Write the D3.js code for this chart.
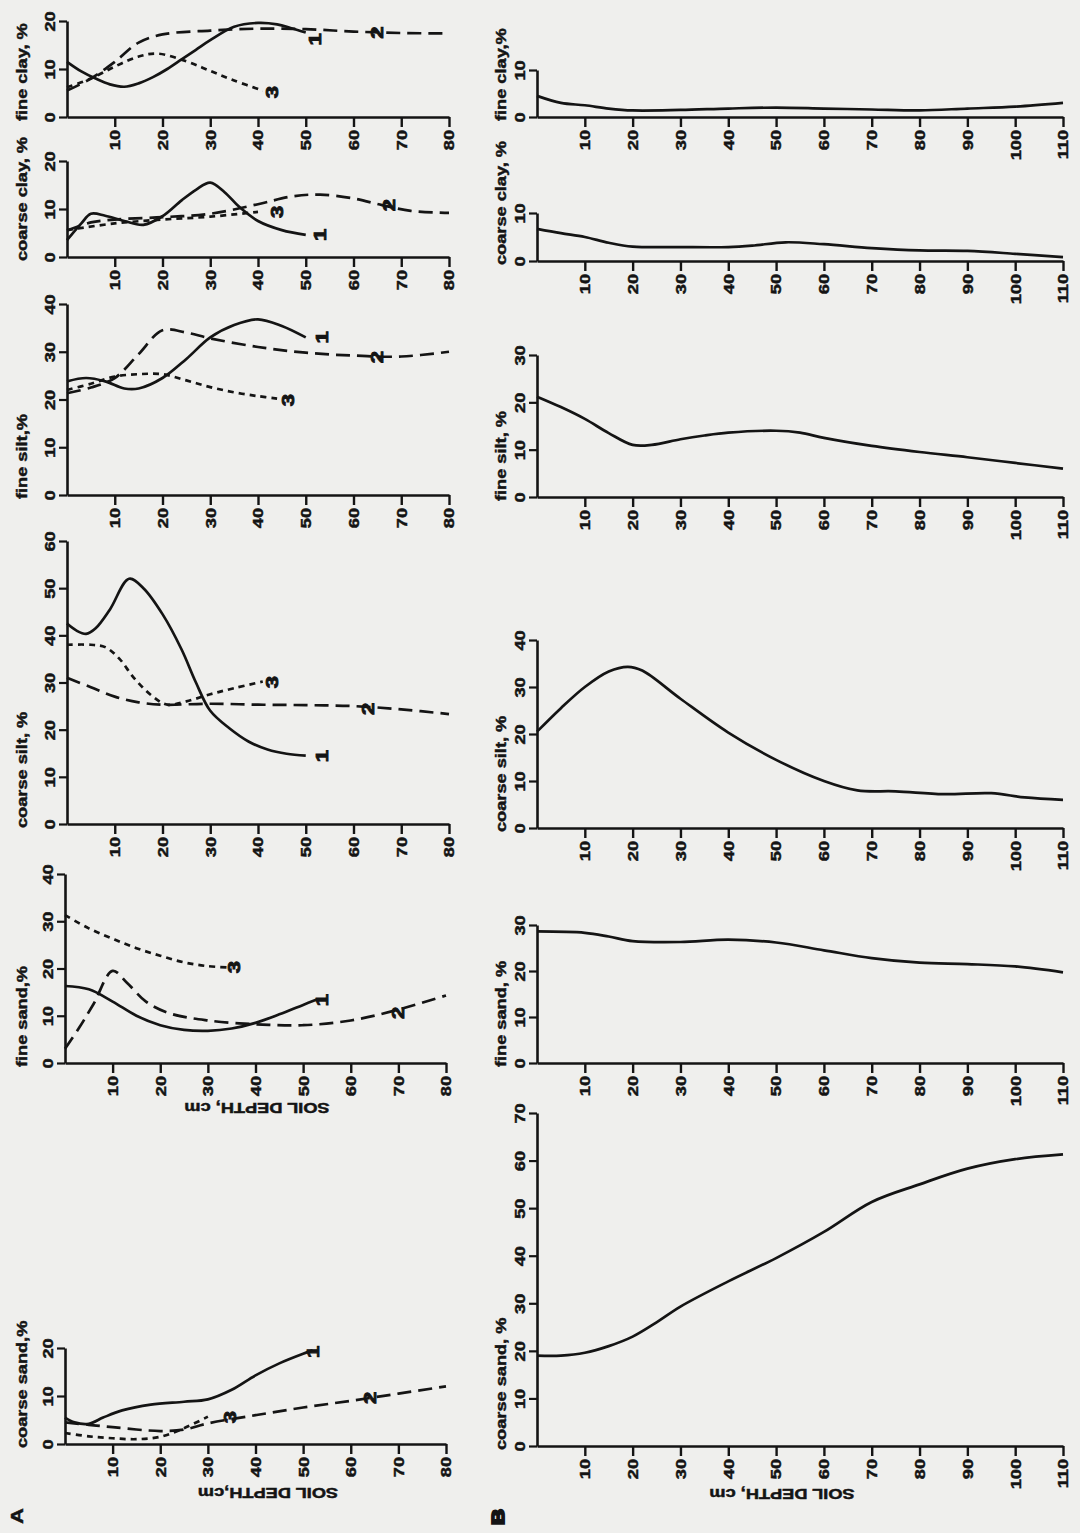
<!DOCTYPE html>
<html>
<head>
<meta charset="utf-8" />
<title>Particle size fractions by soil depth</title>
<script src="https://d3js.org/d3.v7.min.js"></script>
<style>
  body { margin: 0; background: #efefed; }
  svg { display: block; }
  text { font-family: "Liberation Sans", Arial, sans-serif; font-weight: bold; fill: #141414; stroke: #141414; stroke-width: 0.45px; }
</style>
</head>
<body>
<div id="chart"></div>
<script>
// ---- tick labels ----
const depthTicksA = [10, 20, 30, 40, 50, 60, 70, 80];
const depthTicksB = [10, 20, 30, 40, 50, 60, 70, 80, 90, 100, 110];

// ---- column A : three profiles (1 solid, 2 long dash, 3 short dash), [depth cm, %] ----
const aFineClay1 = [[0,11.5],[3,9.5],[6,8],[9,6.8],[12,6.3],[15,7],[18,8.3],[21,10],[24,12],[27,14],[30,16],[35,18.8],[40,19.6],[44,19.3],[47,18.5],[50,17.6]];
const aFineClay2 = [[0,5.5],[5,8],[10,11.5],[15,15.5],[20,17.2],[30,18],[40,18.4],[50,18.3],[60,17.8],[70,17.5],[80,17.4]];
const aFineClay3 = [[0,6.2],[5,8],[10,10.5],[15,12.6],[19,13.2],[25,11.6],[30,9.6],[35,7.6],[41,5.5]];

const aCoarseClay1 = [[0,3.5],[3,7],[5,9],[8,8.6],[12,7.5],[16,6.7],[20,8.5],[24,11.8],[27,14],[30,15.5],[33,13.5],[36,10.5],[40,7.5],[45,5.6],[50,4.6]];
const aCoarseClay2 = [[0,5.5],[5,7.2],[10,7.8],[20,8.3],[30,9],[40,11],[47,12.6],[53,13],[60,12.2],[66,10.8],[72,9.6],[80,9.2]];
const aCoarseClay3 = [[0,5.6],[10,7],[20,7.8],[30,8.4],[40,9.4]];

const aFineSilt1 = [[0,23.8],[4,24.5],[8,23.8],[12,22.3],[15,22.3],[20,24.5],[25,28.5],[30,33],[35,35.6],[40,36.8],[45,35.4],[50,33]];
const aFineSilt2 = [[0,21.3],[5,22.5],[10,24.5],[15,29.5],[20,34.5],[25,34],[30,32.8],[40,31],[50,29.8],[60,29.2],[70,29],[80,30]];
const aFineSilt3 = [[0,22],[5,23.3],[10,24.8],[15,25.3],[20,25.3],[25,24],[30,22.6],[35,21.5],[40,20.7],[44,20.2]];

const aCoarseSilt1 = [[0,42.5],[2,41],[4,40.3],[6,41.5],[9,45.5],[13,52],[16,50],[20,44.5],[24,37],[27,30],[30,24],[34,20.3],[38,17.5],[42,15.8],[46,14.9],[50,14.5]];
const aCoarseSilt2 = [[0,31],[5,29],[10,27],[15,25.8],[20,25.3],[30,25.5],[40,25.3],[50,25.2],[60,25],[70,24.3],[80,23.3]];
const aCoarseSilt3 = [[0,38],[5,38],[8,37.5],[11,35],[14,31],[18,27],[21,25.3],[25,26],[30,27.5],[35,28.8],[41,30.2]];

const aFineSand1 = [[0,16.3],[5,15.6],[10,13],[15,10],[20,8],[25,7],[30,6.8],[35,7.3],[40,8.5],[45,10.3],[50,12.3],[53,13.5]];
const aFineSand2 = [[0,3],[3,7.5],[6,12.5],[10,19.5],[13,17],[17,13],[22,10.5],[30,9],[40,8.2],[50,8],[60,9],[70,11.3],[80,14.3]];
const aFineSand3 = [[0,31.3],[5,28.5],[10,26.3],[15,24.3],[20,22.7],[25,21.3],[30,20.5],[35,20.2]];

const aCoarseSand1 = [[0,5.5],[2,4.5],[5,4.2],[8,5.5],[12,7],[18,8.2],[25,8.8],[30,9.3],[35,11.3],[40,14.3],[45,16.8],[50,18.8],[52,19.5]];
const aCoarseSand2 = [[0,4.5],[5,4],[10,3.5],[20,2.7],[25,3],[30,4.3],[40,6],[50,7.6],[60,9],[70,10.5],[80,12]];
const aCoarseSand3 = [[0,2.3],[5,1.6],[10,1.2],[15,1],[20,1.5],[25,3.3],[30,5.7]];

// label anchors for curve numbers, [depth, %]
const aLabels = [
  [[52, 16.2], [65, 17.6], [43, 5.2]],
  [[53, 4.6], [67.5, 10.8], [44, 9.4]],
  [[53.5, 33], [65, 28.9], [46.3, 19.9]],
  [[53.5, 14.4], [63, 24.4], [43, 30.1]],
  [[54, 13.3], [70, 10.6], [35.5, 20.3]],
  [[52, 19.2], [64, 9.6], [34.6, 5.6]]
];

// ---- column B : single profile, [depth cm, %] ----
const bFineClay = [[0,4.5],[5,3],[10,2.5],[15,1.8],[20,1.4],[30,1.5],[40,1.8],[50,2],[60,1.8],[70,1.6],[80,1.4],[90,1.8],[100,2.2],[110,3]];
const bCoarseClay = [[0,6.7],[5,5.8],[10,5],[15,3.8],[20,3],[30,2.9],[40,2.9],[45,3.2],[52,3.9],[60,3.5],[70,2.7],[80,2.2],[90,2.1],[100,1.5],[110,0.8]];
const bFineSilt = [[0,21.2],[5,19],[10,16.5],[15,13.5],[20,11],[24,11],[30,12.2],[35,13],[40,13.6],[50,14],[55,13.6],[60,12.5],[70,10.8],[80,9.5],[90,8.4],[100,7.2],[110,6]];
const bCoarseSilt = [[0,20.5],[5,25.5],[10,30],[15,33.3],[19,34.3],[22,33.5],[30,27.5],[40,20.3],[50,14.5],[60,10],[67,8],[75,7.8],[85,7.2],[95,7.4],[102,6.5],[110,6]];
const bFineSand = [[0,28.6],[10,28.3],[15,27.5],[20,26.5],[30,26.3],[40,26.8],[50,26.2],[60,24.5],[70,22.8],[80,21.8],[90,21.5],[100,21],[110,19.7]];
const bCoarseSand = [[0,19],[5,19],[10,19.6],[15,21],[20,23],[25,26],[30,29.3],[40,34.6],[50,39.5],[60,45],[70,51.3],[80,55],[90,58.3],[100,60.3],[110,61.3]];

const width = 1080, height = 1533;
const svg = d3.select("#chart").append("svg")
  .attr("width", width)
  .attr("height", height);

const STRETCH = "scale(1.3,1)";
const dashes = [null, "14,7", "6,5"];

const panelsA = [
  { title: "fine clay, %", yMax: 20, yTicks: [0,10,20], bottom: 117, top: 21, left: 67, right: 449, series: [aFineClay1, aFineClay2, aFineClay3], labels: aLabels[0] },
  { title: "coarse clay, %", yMax: 20, yTicks: [0,10,20], bottom: 257, top: 161, left: 67, right: 449, series: [aCoarseClay1, aCoarseClay2, aCoarseClay3], labels: aLabels[1] },
  { title: "fine silt,%", yMax: 40, yTicks: [0,10,20,30,40], bottom: 495, top: 304, left: 67, right: 449, series: [aFineSilt1, aFineSilt2, aFineSilt3], labels: aLabels[2] },
  { title: "coarse silt, %", yMax: 60, yTicks: [0,10,20,30,40,50,60], bottom: 824, top: 541, left: 67, right: 449, series: [aCoarseSilt1, aCoarseSilt2, aCoarseSilt3], labels: aLabels[3] },
  { title: "fine sand,%", yMax: 40, yTicks: [0,10,20,30,40], bottom: 1063, top: 874, left: 65, right: 446, series: [aFineSand1, aFineSand2, aFineSand3], labels: aLabels[4], depthLabel: ["SOIL DEPTH, cm", 257, 1103] },
  { title: "coarse sand,%", yMax: 20, yTicks: [0,10,20], bottom: 1444, top: 1348, left: 65, right: 446, series: [aCoarseSand1, aCoarseSand2, aCoarseSand3], labels: aLabels[5], depthLabel: ["SOIL DEPTH,cm", 268, 1488] }
];

const panelsB = [
  { title: "fine clay,%", yMax: 10, yTicks: [0,10], bottom: 117, top: 70, series: [bFineClay] },
  { title: "coarse clay, %", yMax: 10, yTicks: [0,10], bottom: 261, top: 213, series: [bCoarseClay] },
  { title: "fine silt, %", yMax: 30, yTicks: [0,10,20,30], bottom: 497, top: 355, series: [bFineSilt] },
  { title: "coarse silt, %", yMax: 40, yTicks: [0,10,20,30,40], bottom: 828, top: 640, series: [bCoarseSilt] },
  { title: "fine sand, %", yMax: 30, yTicks: [0,10,20,30], bottom: 1063, top: 925, series: [bFineSand] },
  { title: "coarse sand, %", yMax: 70, yTicks: [0,10,20,30,40,50,60,70], bottom: 1446, top: 1113, series: [bCoarseSand], depthLabel: ["SOIL DEPTH, cm", 782, 1489] }
];

const drawPanel = (p, xMax, ticks, titleX) => {
  const x = d3.scaleLinear().domain([0, xMax]).range([p.left, p.right]);
  const y = d3.scaleLinear().domain([0, p.yMax]).range([p.bottom, p.top]);

  const gx = svg.append("g")
    .attr("transform", `translate(0,${p.bottom})`)
    .call(d3.axisBottom(x).tickValues(ticks).tickSize(10).tickSizeOuter(0));
  gx.select(".domain").attr("stroke", "#141414").attr("stroke-width", 2.6);
  gx.selectAll(".tick line").attr("stroke", "#141414").attr("stroke-width", 2.4);
  gx.selectAll(".tick text")
    .attr("y", null)
    .attr("dy", "0.35em")
    .attr("text-anchor", "end")
    .attr("transform", `translate(0,13) rotate(-90) ${STRETCH}`)
    .style("font-size", "14px")
    .attr("fill", "#141414");

  const gy = svg.append("g")
    .attr("transform", `translate(${p.left},0)`)
    .call(d3.axisLeft(y).tickValues(p.yTicks).tickSize(8).tickSizeOuter(0));
  gy.select(".domain").attr("stroke", "#141414").attr("stroke-width", 2.6);
  gy.selectAll(".tick line").attr("stroke", "#141414").attr("stroke-width", 2.2);
  gy.selectAll(".tick text")
    .attr("x", null)
    .attr("dy", null)
    .attr("text-anchor", "middle")
    .attr("transform", `translate(-12,0) rotate(-90) ${STRETCH}`)
    .style("font-size", "14px")
    .attr("fill", "#141414");

  svg.append("text")
    .attr("transform", `translate(${titleX},${p.bottom + 4}) rotate(-90) ${STRETCH}`)
    .attr("text-anchor", "start")
    .style("font-size", "14px")
    .text(p.title);

  const line = d3.line()
    .x(d => x(d[0]))
    .y(d => y(d[1]))
    .curve(d3.curveCatmullRom.alpha(0.5));

  p.series.forEach((s, i) => {
    svg.append("path")
      .datum(s)
      .attr("d", line)
      .attr("fill", "none")
      .attr("stroke", "#141414")
      .attr("stroke-width", 2.7)
      .attr("stroke-dasharray", dashes[i]);
  });

  if (p.labels) {
    p.labels.forEach((l, i) => {
      svg.append("text")
        .attr("transform", `translate(${x(l[0])},${y(l[1])}) rotate(-90) ${STRETCH}`)
        .attr("text-anchor", "middle")
        .attr("dy", "0.35em")
        .style("font-size", "17px")
        .style("stroke-width", "0.9px")
        .text(i + 1);
    });
  }

  if (p.depthLabel) {
    svg.append("text")
      .attr("transform", `translate(${p.depthLabel[1]},${p.depthLabel[2]}) rotate(180) ${STRETCH}`)
      .attr("text-anchor", "middle")
      .style("font-size", "14px")
      .text(p.depthLabel[0]);
  }
};

panelsA.forEach(p => drawPanel(p, 80, depthTicksA, 27));
panelsB.forEach(p => drawPanel(Object.assign({ left: 537, right: 1063 }, p), 110, depthTicksB, 506));

// panel letters
svg.append("text")
  .attr("transform", `translate(23,1516) rotate(-90) ${STRETCH}`)
  .attr("text-anchor", "middle")
  .style("font-size", "17px")
  .text("A");
svg.append("text")
  .attr("transform", `translate(504,1517) rotate(-90) ${STRETCH}`)
  .attr("text-anchor", "middle")
  .style("font-size", "17px")
  .style("stroke-width", "2px")
  .text("B");
</script>
</body>
</html>
